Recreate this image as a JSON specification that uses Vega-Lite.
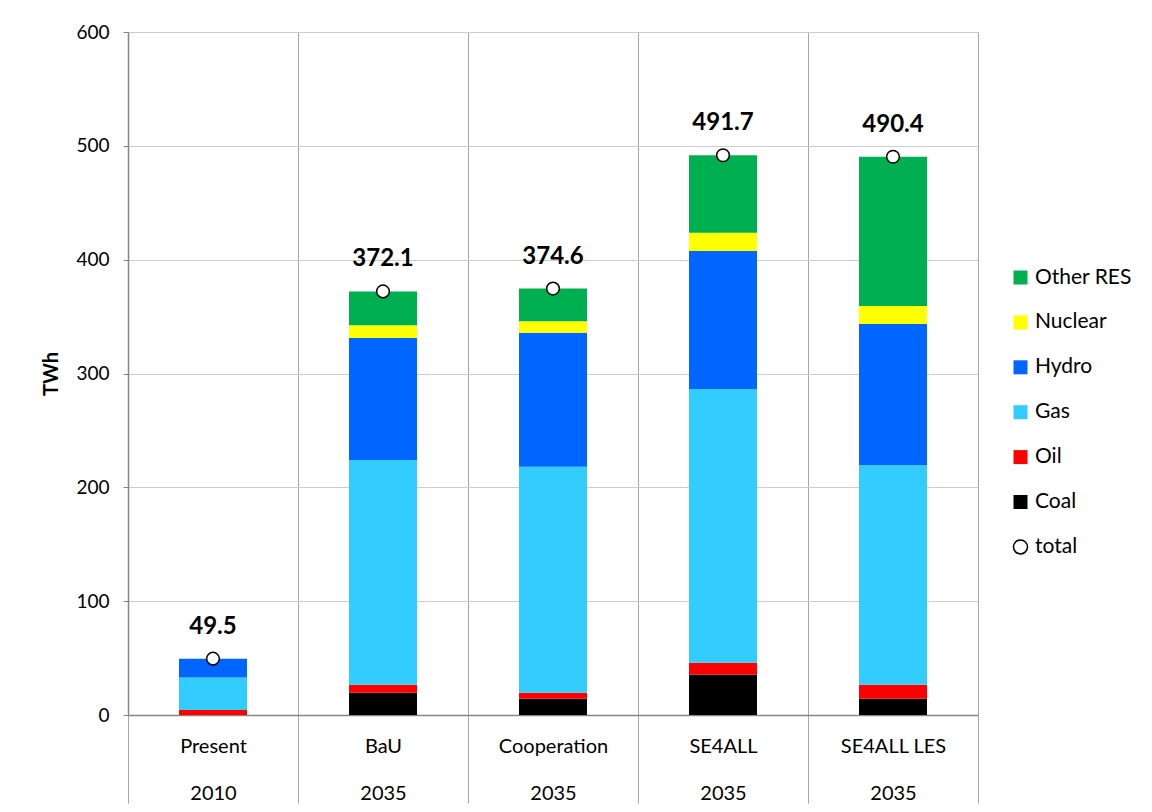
{
  "$schema": "https://vega.github.io/schema/vega-lite/v6.json",
  "width": 850,
  "height": 683,
  "autosize": "none",
  "padding": {"left": 128, "top": 32, "right": 174, "bottom": 97},
  "background": "white",
  "config": {"font": "Lato", "view": {"stroke": null}},
  "data": {
    "values": [
      {"scenario": "Present", "year": "2010", "source": "Oil", "value": 4.5},
      {"scenario": "Present", "year": "2010", "source": "Gas", "value": 28.5},
      {"scenario": "Present", "year": "2010", "source": "Hydro", "value": 16.5},
      {"scenario": "Present", "year": "2010", "source": "total", "value": 49.5},
      {"scenario": "BaU", "year": "2035", "source": "Coal", "value": 19.6},
      {"scenario": "BaU", "year": "2035", "source": "Oil", "value": 7.0},
      {"scenario": "BaU", "year": "2035", "source": "Gas", "value": 197.4},
      {"scenario": "BaU", "year": "2035", "source": "Hydro", "value": 107.2},
      {"scenario": "BaU", "year": "2035", "source": "Nuclear", "value": 11.1},
      {"scenario": "BaU", "year": "2035", "source": "Other RES", "value": 29.8},
      {"scenario": "BaU", "year": "2035", "source": "total", "value": 372.1},
      {"scenario": "Cooperation", "year": "2035", "source": "Coal", "value": 14.3},
      {"scenario": "Cooperation", "year": "2035", "source": "Oil", "value": 5.3},
      {"scenario": "Cooperation", "year": "2035", "source": "Gas", "value": 198.5},
      {"scenario": "Cooperation", "year": "2035", "source": "Hydro", "value": 117.8},
      {"scenario": "Cooperation", "year": "2035", "source": "Nuclear", "value": 9.9},
      {"scenario": "Cooperation", "year": "2035", "source": "Other RES", "value": 28.8},
      {"scenario": "Cooperation", "year": "2035", "source": "total", "value": 374.6},
      {"scenario": "SE4ALL", "year": "2035", "source": "Coal", "value": 35.4},
      {"scenario": "SE4ALL", "year": "2035", "source": "Oil", "value": 10.5},
      {"scenario": "SE4ALL", "year": "2035", "source": "Gas", "value": 240.5},
      {"scenario": "SE4ALL", "year": "2035", "source": "Hydro", "value": 121.2},
      {"scenario": "SE4ALL", "year": "2035", "source": "Nuclear", "value": 16.1},
      {"scenario": "SE4ALL", "year": "2035", "source": "Other RES", "value": 68.0},
      {"scenario": "SE4ALL", "year": "2035", "source": "total", "value": 491.7},
      {"scenario": "SE4ALL LES", "year": "2035", "source": "Coal", "value": 14.3},
      {"scenario": "SE4ALL LES", "year": "2035", "source": "Oil", "value": 12.3},
      {"scenario": "SE4ALL LES", "year": "2035", "source": "Gas", "value": 192.7},
      {"scenario": "SE4ALL LES", "year": "2035", "source": "Hydro", "value": 124.2},
      {"scenario": "SE4ALL LES", "year": "2035", "source": "Nuclear", "value": 15.8},
      {"scenario": "SE4ALL LES", "year": "2035", "source": "Other RES", "value": 131.1},
      {"scenario": "SE4ALL LES", "year": "2035", "source": "total", "value": 490.4}
    ]
  },
  "encoding": {
    "x": {
      "field": "scenario",
      "type": "nominal",
      "sort": ["Present", "BaU", "Cooperation", "SE4ALL", "SE4ALL LES"],
      "scale": {"paddingInner": 0, "paddingOuter": 0},
      "axis": {
        "title": null,
        "labelAngle": 0,
        "tickBand": "extent",
        "grid": true,
        "gridColor": "#a6a6a6",
        "gridWidth": 1,
        "tickColor": "#a6a6a6",
        "tickSize": 88,
        "domainColor": "#868686",
        "domainWidth": 1.5,
        "labelPadding": -67,
        "labelFontSize": 20,
        "labelColor": "#000000",
        "labelLineHeight": 47,
        "labelExpr": "indexof(['Present','BaU','Cooperation','SE4ALL','SE4ALL LES'], datum.value) < 0 ? '' : [datum.value, datum.value === 'Present' ? '2010' : '2035']"
      }
    }
  },
  "layer": [
    {
      "transform": [
        {"filter": "datum.source !== 'total'"},
        {"calculate": "indexof(['Coal','Oil','Gas','Hydro','Nuclear','Other RES'], datum.source)", "as": "stackOrder"}
      ],
      "mark": {"type": "bar", "width": {"band": 0.4}},
      "encoding": {
        "y": {
          "field": "value",
          "type": "quantitative",
          "stack": "zero",
          "scale": {"domain": [0, 600]},
          "axis": {
            "title": "TWh",
            "titleFontSize": 20,
            "titleFontWeight": "bold",
            "titleColor": "#000000",
            "titlePadding": 14,
            "values": [0, 100, 200, 300, 400, 500, 600],
            "labelFontSize": 19,
            "labelColor": "#000000",
            "labelPadding": 14,
            "tickSize": 5,
            "tickColor": "#868686",
            "domainColor": "#868686",
            "domainWidth": 1.5,
            "gridColor": "#cccccc",
            "gridWidth": 1.2
          }
        },
        "order": {"field": "stackOrder", "type": "quantitative", "sort": "ascending"},
        "color": {
          "field": "source",
          "type": "nominal",
          "scale": {
            "domain": ["Other RES", "Nuclear", "Hydro", "Gas", "Oil", "Coal", "total"],
            "range": ["#00B050", "#FFFF00", "#0066FF", "#33CCFF", "#FF0000", "#000000", "#FFFFFF"]
          },
          "legend": {
            "title": null,
            "orient": "none",
            "legendX": 882,
            "legendY": 235,
            "symbolType": "square",
            "symbolSize": 196,
            "symbolStrokeWidth": 0,
            "labelFontSize": 21,
            "labelColor": "#000000",
            "labelOffset": 4,
            "rowPadding": 22.9,
            "encode": {
              "symbols": {
                "update": {
                  "shape": {"signal": "datum.value === 'total' ? 'circle' : 'square'"},
                  "stroke": {"signal": "datum.value === 'total' ? '#000000' : 'transparent'"},
                  "strokeWidth": {"value": 1.5}
                }
              }
            }
          }
        }
      }
    },
    {
      "transform": [{"filter": "datum.source === 'total'"}],
      "mark": {"type": "point", "shape": "circle", "filled": true, "size": 160, "stroke": "#000000", "strokeWidth": 1.5, "opacity": 1},
      "encoding": {
        "y": {"field": "value", "type": "quantitative"},
        "color": {"field": "source", "type": "nominal"}
      }
    },
    {
      "transform": [{"filter": "datum.source === 'total'"}],
      "mark": {"type": "text", "dy": -32, "fontSize": 24, "fontWeight": "bold", "color": "#000000"},
      "encoding": {
        "y": {"field": "value", "type": "quantitative"},
        "text": {"field": "value", "type": "quantitative", "format": ".1f"}
      }
    }
  ]
}
